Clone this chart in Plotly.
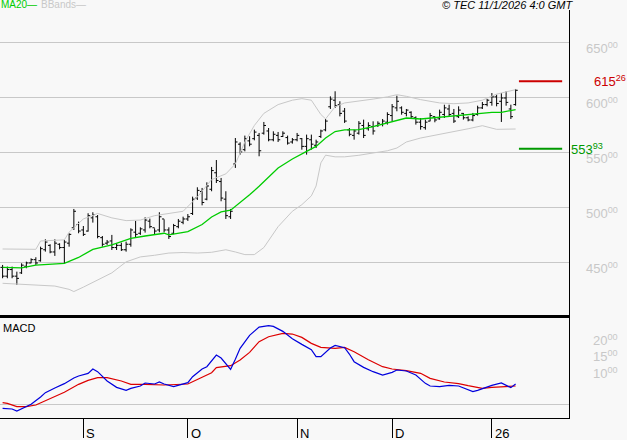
import plotly.graph_objects as go

# ---------------- DATA ----------------
bar_idx = list(range(109))
highs = [448.2, 446.7, 446.7, 442.1, 449.7, 451.2, 454.2, 455.2, 464.8, 471.5,
         467.0, 471.5, 467.9, 470.9, 477.0, 499.1, 487.6, 483.6, 495.2, 496.1,
         493.6, 474.5, 470.9, 475.5, 467.9, 468.5, 469.4, 481.5, 488.2, 482.4,
         491.5, 490.3, 481.5, 496.1, 489.7, 482.4, 485.5, 490.0, 492.1, 494.5,
         510.3, 518.8, 518.2, 523.3, 537.3, 543.6, 527.3, 515.2, 499.1, 563.6,
         559.7, 565.8, 565.2, 571.2, 568.2, 578.2, 572.7, 569.7, 569.1, 569.7,
         565.8, 563.6, 568.2, 563.6, 566.7, 566.7, 562.1, 571.2, 580.9, 601.5,
         606.1, 597.0, 590.9, 572.7, 571.2, 579.0, 580.3, 577.9, 578.8, 578.8,
         580.9, 587.0, 594.5, 602.1, 592.4, 590.0, 587.9, 583.3, 581.8, 580.3,
         586.4, 583.3, 589.4, 593.9, 593.9, 590.0, 592.4, 586.4, 583.3, 586.4,
         593.0, 596.4, 599.1, 604.5, 603.0, 604.5, 606.1, 593.9, 608.2]
lows = [436.1, 436.1, 436.1, 430.0, 440.0, 445.2, 449.7, 448.2, 451.2, 460.3,
        458.8, 456.4, 462.4, 449.7, 464.8, 480.0, 477.0, 474.5, 478.5, 486.7,
        472.4, 464.8, 466.4, 461.8, 461.8, 460.9, 460.3, 464.8, 473.3, 475.5,
        477.6, 481.5, 475.5, 477.9, 477.9, 471.8, 476.1, 481.5, 485.2, 488.2,
        493.6, 507.3, 502.4, 507.0, 515.2, 522.7, 506.1, 490.0, 490.0, 536.4,
        548.5, 551.5, 556.1, 561.5, 547.0, 566.7, 560.6, 560.6, 560.0, 564.5,
        557.6, 558.5, 560.6, 553.0, 548.5, 553.0, 554.5, 563.6, 569.7, 590.0,
        590.9, 583.3, 577.3, 565.2, 562.1, 566.7, 563.6, 570.3, 566.7, 573.6,
        574.2, 575.8, 578.8, 587.9, 584.8, 583.3, 580.9, 575.8, 571.2, 571.2,
        578.8, 577.9, 580.3, 581.8, 583.3, 577.3, 581.8, 580.3, 578.8, 578.8,
        584.0, 590.0, 592.4, 593.0, 592.4, 578.2, 593.0, 580.9, 593.0]
opens = [446, 438, 444, 438, 441, 447, 450, 453, 452, 462,
         466, 460, 467, 464, 468, 482, 485, 480, 479, 491,
         492, 473, 468, 470, 464, 466, 462, 467, 478, 477,
         480, 488, 482, 480, 490, 480, 477, 483, 487, 490,
         495, 509, 515, 508, 517, 532, 524, 508, 492, 540,
         558, 553, 561, 563, 566, 568, 570, 562, 566, 565,
         564, 560, 562, 563, 556, 562, 557, 565, 571, 592,
         598, 594, 588, 571, 566, 568, 575, 572, 574, 575,
         576, 578, 584, 591, 591, 586, 587, 582, 578, 573,
         579, 583, 581, 585, 590, 586, 583, 586, 582, 580,
         585, 591, 594, 596, 601, 597, 600, 590, 594]
closes = [438, 444, 438, 436, 448, 450, 453, 450, 463, 469,
          460, 468, 464, 469, 476, 497, 479, 476, 493, 494,
          474, 467, 469, 464, 466, 462, 467, 480, 476, 481,
          489, 483, 479, 492, 480, 474, 484, 488, 490, 492,
          508, 516, 505, 520, 534, 525, 509, 493, 497, 560,
          551, 563, 558, 569, 552, 575, 562, 567, 562, 568,
          559, 562, 566, 556, 563, 558, 560, 570, 579, 599,
          593, 586, 579, 567, 570, 577, 566, 575, 570, 577,
          579, 585, 592, 597, 587, 589, 583, 578, 574, 578,
          584, 580, 587, 591, 585, 579, 589, 582, 580, 584,
          591, 594, 598, 601, 595, 600, 596, 583, 607]

ma_idx = [0, 4, 7, 11, 13, 16, 19, 23, 27, 30, 32, 34, 35, 37, 39, 42, 44, 46, 48,
          52, 54, 58, 61, 64, 66, 68, 70, 72, 75, 78, 81, 85, 88, 92, 96, 100,
          103, 105, 108]
ma_val = [446.0, 445.5, 448.0, 449.5, 449.7, 455.0, 462.4, 466.5, 472.4, 474.5,
          476.0, 477.0, 475.5, 477.3, 478.5, 485.0, 491.8, 496.4, 498.0, 512.0,
          519.7, 536.4, 544.5, 551.5, 556.0, 563.6, 569.5, 571.0, 571.2, 574.0,
          577.3, 581.8, 580.9, 582.4, 583.9, 585.8, 587.0, 587.0, 589.4]

bbu_idx = [0, 4, 7, 8, 11, 13, 14, 17, 20, 23, 26, 29, 32, 35, 38, 41, 44, 47, 49,
           51, 53, 55, 58, 61, 63, 65, 67, 68, 70, 72, 75, 78, 81, 83, 85, 88, 92,
           95, 98, 101, 104, 108]
bbu_val = [462.7, 462.5, 462.4, 470.0, 471.0, 471.0, 478.0, 490.0, 495.0, 491.0,
           488.5, 489.0, 493.0, 495.0, 497.0, 510.0, 525.8, 531.0, 540.0, 560.0,
           575.0, 586.0, 594.0, 598.0, 599.4, 598.0, 585.0, 581.0, 592.0, 595.5,
           597.0, 599.0, 601.0, 603.0, 601.5, 598.5, 595.5, 594.8, 595.5, 598.0,
           603.5, 607.6]

bbl_idx = [0, 4, 8, 11, 14, 15, 17, 20, 23, 26, 29, 32, 35, 38, 41, 44, 47, 49, 51,
           53, 55, 58, 61, 63, 65, 66, 67, 68, 70, 72, 75, 78, 81, 83, 85, 88, 92,
           95, 98, 101, 104, 108]
bbl_val = [431.5, 430.5, 430.0, 429.0, 426.0, 424.0, 428.0, 434.5, 441.0, 451.0,
           455.5, 457.0, 459.0, 459.5, 459.0, 459.7, 462.0, 460.0, 457.6, 457.6,
           464.0, 483.0, 497.0, 503.0, 511.0, 520.0, 541.0, 548.0, 546.5, 546.5,
           547.9, 550.0, 552.0, 554.5, 560.0, 563.6, 566.7, 569.0, 572.0, 574.8,
           571.5, 571.8]

macd_idx = [0, 2, 3, 4, 6, 8, 9, 11, 13, 15, 16, 18, 19, 20, 22, 24, 26, 27, 29, 30,
            32, 33, 34, 36, 38, 39, 40, 42, 43, 45, 46, 48, 49, 50, 52, 54, 56, 57,
            59, 61, 63, 65, 66, 67, 69, 70, 72, 73, 74, 76, 78, 80, 82, 83, 85, 87,
            89, 90, 92, 94, 96, 98, 99, 100, 102, 103, 105, 106, 107, 108]
macd_val = [-1.2, -1.4, -2.0, -1.4, 0.0, 2.2, 3.5, 4.9, 6.2, 7.9, 8.5, 9.3, 10.6, 9.8,
            7.0, 5.1, 4.2, 4.8, 5.5, 6.4, 6.1, 6.7, 6.1, 5.3, 6.2, 6.5, 8.3, 10.6,
            11.3, 14.8, 13.9, 10.5, 13.5, 16.8, 20.7, 23.2, 23.6, 23.4, 21.9, 19.7,
            18.0, 16.4, 14.3, 14.3, 16.9, 17.7, 17.0, 15.1, 12.8, 11.1, 9.8, 8.8,
            9.6, 10.3, 10.0, 8.8, 6.3, 5.5, 5.3, 5.7, 5.5, 4.4, 3.8, 4.2, 5.2, 5.7,
            6.4, 5.6, 5.0, 6.1]

sig_idx = [0, 1, 3, 5, 7, 10, 13, 16, 18, 20, 22, 25, 27, 30, 34, 39, 42, 44, 45, 48,
           50, 52, 54, 56, 59, 61, 63, 65, 67, 70, 72, 74, 77, 80, 82, 85, 88, 90,
           93, 96, 98, 101, 103, 105, 108]
sig_val = [0.5, 0.3, -0.7, -0.7, -0.2, 1.8, 3.6, 6.0, 7.2, 8.0, 8.0, 7.0, 6.0, 6.0,
           5.8, 6.1, 8.2, 9.5, 11.0, 11.6, 13.3, 15.6, 18.8, 20.3, 21.3, 21.1, 20.1,
           18.3, 17.1, 16.8, 17.1, 15.8, 13.4, 11.3, 10.6, 10.1, 9.3, 7.8, 6.7, 6.2,
           5.6, 4.8, 5.1, 5.3, 5.5]

month_tick_idx = [17, 39, 62, 82, 103]
month_labels = ["S", "O", "N", "D", "26"]
price_ticks = [450, 500, 550, 600, 650]
macd_ticks = [10, 15, 20]
resistance = 615.26
support = 553.93

# ---------------- FIGURE ----------------
BG = "#f8f8f8"
GRID = "#c8c8c8"
FONT = "Liberation Sans"

fig = go.Figure()

fig.add_trace(go.Scatter(x=bbu_idx, y=bbu_val, mode="lines",
                         line=dict(color=GRID, width=1), hoverinfo="skip"))
fig.add_trace(go.Scatter(x=bbl_idx, y=bbl_val, mode="lines",
                         line=dict(color=GRID, width=1), hoverinfo="skip"))
fig.add_trace(go.Scatter(x=ma_idx, y=ma_val, mode="lines",
                         line=dict(color="#00cc00", width=1.3), hoverinfo="skip"))
fig.add_trace(go.Ohlc(x=bar_idx, open=opens, high=highs, low=lows, close=closes,
                      increasing=dict(line=dict(color="black", width=1)),
                      decreasing=dict(line=dict(color="black", width=1)),
                      tickwidth=0.45, hoverinfo="skip"))

fig.add_trace(go.Scatter(x=sig_idx, y=sig_val, mode="lines", xaxis="x2", yaxis="y2",
                         line=dict(color="#dd0000", width=1.2), hoverinfo="skip"))
fig.add_trace(go.Scatter(x=macd_idx, y=macd_val, mode="lines", xaxis="x2", yaxis="y2",
                         line=dict(color="#0000dd", width=1.2), hoverinfo="skip"))

last = bar_idx[-1]
xr = [-0.547, 119.24]

fig.update_layout(
    width=627, height=440,
    margin=dict(l=0, r=58, t=10, b=22),
    paper_bgcolor=BG, plot_bgcolor=BG,
    showlegend=False,
    font=dict(family=FONT, size=12, color="black"),
    xaxis=dict(domain=[0, 1], range=xr, anchor="y", showgrid=False, zeroline=False,
               showticklabels=False, ticks="", showline=True, linecolor="black",
               linewidth=2.5, rangeslider=dict(visible=False), fixedrange=True),
    yaxis=dict(domain=[0.2525, 1], range=[402.7, 680.0], side="right",
               tickvals=price_ticks, showticklabels=False, ticks="",
               showgrid=True, gridcolor=GRID, gridwidth=1, zeroline=False,
               showline=True, linecolor="black", linewidth=1),
    xaxis2=dict(domain=[0, 1], range=xr, anchor="y2", showgrid=False, zeroline=False,
                tickvals=month_tick_idx, ticks="outside", ticklen=19, tickwidth=1,
                tickcolor="black", showticklabels=False, showline=True,
                linecolor="black", linewidth=1),
    yaxis2=dict(domain=[0, 0.25], range=[-4.11, 26.52], side="right", anchor="x2",
                tickvals=[0], showticklabels=False, ticks="",
                showgrid=True, gridcolor=GRID, zeroline=False,
                showline=True, linecolor="black", linewidth=1),
)

# support / resistance segments
fig.add_shape(type="line", xref="x", yref="y", x0=last + 0.7, x1=last + 9.8,
              y0=resistance, y1=resistance, line=dict(color="#cc0000", width=2))
fig.add_shape(type="line", xref="x", yref="y", x0=last + 0.7, x1=last + 9.8,
              y0=support, y1=support, line=dict(color="#009900", width=2))

ann = []
def split_num(v):
    s = f"{v:.2f}"
    a, b = s.split(".")
    return f"{a}<sup>{b}</sup>"

for t in price_ticks:
    ann.append(dict(xref="paper", yref="y", x=1, y=t, xanchor="right", yanchor="middle",
                    xshift=51, yshift=-5, showarrow=False, text=split_num(t),
                    font=dict(family=FONT, size=13, color=GRID)))
for t in macd_ticks:
    ann.append(dict(xref="paper", yref="y2", x=1, y=t, xanchor="right", yanchor="middle",
                    xshift=51, yshift=-2, showarrow=False, text=split_num(t),
                    font=dict(family=FONT, size=13, color=GRID)))

ann.append(dict(xref="paper", yref="y", x=1, y=resistance, xanchor="left",
                yanchor="middle", xshift=23, showarrow=False, text=split_num(resistance),
                font=dict(family=FONT, size=13, color="#cc0000")))
ann.append(dict(xref="paper", yref="y", x=1, y=support, xanchor="left",
                yanchor="middle", xshift=0, showarrow=False, text=split_num(support),
                font=dict(family=FONT, size=13, color="#009900")))

for xi, lab in zip(month_tick_idx, month_labels):
    ann.append(dict(xref="x2", yref="paper", x=xi, y=0, xanchor="left", yanchor="top",
                    xshift=1, yshift=-6, showarrow=False, text=lab,
                    font=dict(family=FONT, size=13, color="black")))

TOP_Y = 1.0123  # about 5 px from the top of the picture
ann.append(dict(xref="paper", yref="paper", x=0, y=TOP_Y, xanchor="left", yanchor="middle",
                xshift=0, borderpad=0, showarrow=False, text="MA20—",
                font=dict(family=FONT, size=10, color="#00cc00")))
ann.append(dict(xref="paper", yref="paper", x=0, y=TOP_Y, xanchor="left", yanchor="middle",
                xshift=40, borderpad=0, showarrow=False, text="BBands—",
                font=dict(family=FONT, size=10, color=GRID)))
ann.append(dict(xref="paper", yref="paper", x=1, y=TOP_Y, xanchor="right", yanchor="middle",
                xshift=5, borderpad=0, showarrow=False,
                text="<i>© TEC 11/1/2026 4:0 GMT</i>",
                font=dict(family=FONT, size=11, color="black")))
ann.append(dict(xref="paper", yref="paper", x=0, y=0.25, xanchor="left", yanchor="top",
                xshift=1, yshift=-4, showarrow=False, text="MACD",
                font=dict(family=FONT, size=11, color="black")))

fig.update_layout(annotations=ann)

fig.write_html("out.html", config={"displayModeBar": False},
               post_script="document.body.style.margin='0';document.body.style.overflow='hidden';")
